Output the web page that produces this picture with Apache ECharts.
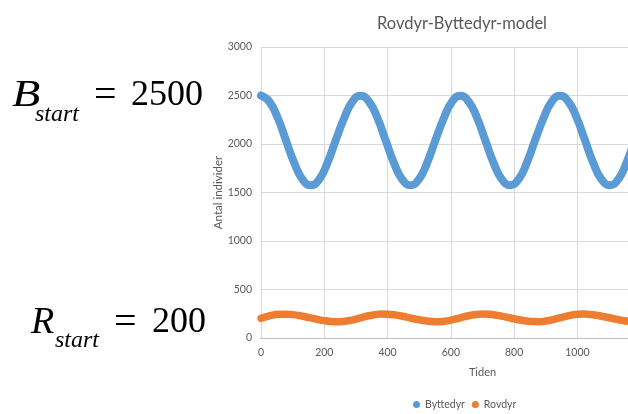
<!DOCTYPE html>
<html>
<head>
<meta charset="utf-8">
<script src="https://cdn.jsdelivr.net/npm/echarts@6/dist/echarts.min.js"></script>
<style>
  html, body { margin: 0; padding: 0; background: #ffffff; }
  #chart { width: 628px; height: 414px; }
</style>
</head>
<body>
<div id="chart"></div>
<script>
// Prey (Byttedyr): time steps and population, start value 2500
const tidenBytte = [
  0, 26, 53, 79, 105, 131, 158, 184, 210, 236, 263, 289,
  315, 341, 368, 394, 420, 446, 473, 499, 525, 551, 578, 604,
  630, 656, 683, 709, 735, 761, 788, 814, 840, 866, 893, 919,
  945, 971, 998, 1024, 1050, 1076, 1103, 1129, 1155, 1181, 1208
];
const byttedyr = [
  2500, 2438, 2268, 2037, 1806, 1636, 1574, 1636, 1806, 2037, 2268, 2438,
  2498, 2438, 2268, 2037, 1806, 1636, 1575, 1636, 1806, 2037, 2268, 2438,
  2498, 2438, 2268, 2037, 1806, 1636, 1575, 1636, 1806, 2037, 2268, 2438,
  2498, 2438, 2268, 2037, 1806, 1636, 1575, 1636, 1806, 2037, 2268
];

// Predator (Rovdyr): time steps and population, start value 200
const tidenRov = [
  0, 20, 40, 60, 80, 100, 120, 140, 160, 180,
  200, 220, 240, 260, 280, 300, 320, 340, 360, 380,
  400, 420, 440, 460, 480, 500, 520, 540, 560, 580,
  600, 620, 640, 660, 680, 700, 720, 740, 760, 780,
  800, 820, 840, 860, 880, 900, 920, 940, 960, 980,
  1000, 1020, 1040, 1060, 1080, 1100, 1120, 1140, 1160, 1180, 1200
];
const rovdyr = [
  203, 223, 238, 246, 246, 241, 232, 219, 205, 191,
  179, 171, 168, 171, 180, 195, 213, 229, 241, 247,
  245, 239, 229, 216, 201, 188, 177, 170, 168, 173,
  184, 200, 217, 232, 243, 247, 244, 237, 226, 212,
  198, 185, 175, 169, 168, 175, 187, 204, 221, 236,
  245, 247, 243, 234, 222, 209, 194, 182, 173, 168, 169
];

const xTicks = { min: 0, max: 1400, interval: 200 };
const yTicks = { min: 0, max: 3000, interval: 500 };

const seriesNames = ['Byttedyr', 'Rovdyr'];
const chartTitle = 'Rovdyr-Byttedyr-model';
const xName = 'Tiden';
const yName = 'Antal individer';

const pairs = (xs, ys) => xs.map((x, i) => [x, ys[i]]);
const plain = v => String(v);

const chart = echarts.init(document.getElementById('chart'), null, { renderer: 'canvas' });

const uiFont = 'Lato';
const serif = '"Liberation Serif", "Times New Roman", serif';
const grey = '#595959';

// Start-value equations shown beside the plot
const eq = (text, x, y, font, align, extra) => Object.assign(
  { type: 'text', x: x, y: y, style: { text: text, font: font, fill: '#000', align: align, verticalAlign: 'middle' } },
  extra || {}
);

chart.setOption({
  animation: false,
  backgroundColor: '#ffffff',
  title: {
    text: chartTitle,
    left: 457,
    top: 10,
    textAlign: 'center',
    textStyle: { color: grey, fontSize: 16.5, fontWeight: 'normal', fontFamily: uiFont }
  },
  legend: {
    data: seriesNames,
    left: 408,
    top: 394,
    icon: 'circle',
    itemWidth: 7,
    itemHeight: 7,
    itemGap: 7,
    textStyle: { color: grey, fontSize: 10.5, fontFamily: uiFont }
  },
  grid: { left: 261, top: 47, width: 443, height: 291, containLabel: false, outerBoundsMode: 'none' },
  xAxis: {
    type: 'value',
    min: xTicks.min, max: xTicks.max, interval: xTicks.interval,
    name: xName,
    nameLocation: 'middle',
    nameGap: 29,
    nameTextStyle: { color: grey, fontSize: 11, fontFamily: uiFont },
    axisLine: { show: true, lineStyle: { color: '#BFBFBF', width: 1 } },
    axisTick: { show: false },
    axisLabel: { color: grey, fontSize: 10.5, fontFamily: uiFont, margin: 9, formatter: plain },
    splitLine: { show: true, lineStyle: { color: '#D9D9D9', width: 1 } }
  },
  yAxis: {
    type: 'value',
    min: yTicks.min, max: yTicks.max, interval: yTicks.interval,
    name: yName,
    nameLocation: 'middle',
    nameGap: 37,
    nameMoveOverlap: false,
    nameTextStyle: { color: grey, fontSize: 11.5, fontFamily: uiFont },
    axisLine: { show: true, lineStyle: { color: '#D9D9D9', width: 1 } },
    axisTick: { show: false },
    axisLabel: { color: grey, fontSize: 10.5, fontFamily: uiFont, margin: 9, formatter: plain },
    splitLine: { show: true, lineStyle: { color: '#D9D9D9', width: 1 } }
  },
  series: [
    {
      name: seriesNames[0],
      type: 'line',
      data: pairs(tidenBytte, byttedyr),
      smooth: true,
      showSymbol: false,
      clip: false,
      color: '#5B9BD5',
      lineStyle: { width: 8, color: '#5B9BD5', cap: 'round', join: 'round' }
    },
    {
      name: seriesNames[1],
      type: 'line',
      data: pairs(tidenRov, rovdyr),
      smooth: true,
      showSymbol: false,
      clip: false,
      color: '#ED7D31',
      lineStyle: { width: 7.5, color: '#ED7D31', cap: 'round', join: 'round' }
    }
  ],
  graphic: [
    eq('B', 12, 96, 'italic 38px ' + serif, 'left', { scaleX: 1.22 }),
    eq('start', 35, 115, 'italic 24px ' + serif, 'left'),
    eq('=', 94, 96, '40px ' + serif, 'left'),
    eq('2500', 203, 96, '36px ' + serif, 'right'),

    eq('R', 31, 323, 'italic 38px ' + serif, 'left'),
    eq('start', 55, 341, 'italic 24px ' + serif, 'left'),
    eq('=', 114, 323, '40px ' + serif, 'left'),
    eq('200', 206, 323, '36px ' + serif, 'right')
  ]
});
</script>
</body>
</html>
